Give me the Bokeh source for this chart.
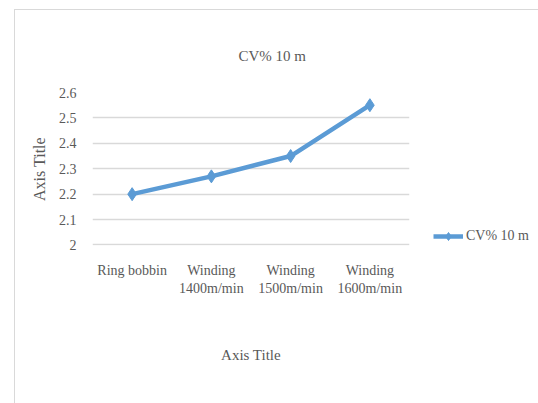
from bokeh.plotting import figure
from bokeh.models import (ColumnDataSource, Range1d, Legend, LegendItem, Title, FixedTicker)
from bokeh.embed import file_html
from bokeh.resources import INLINE

categories = ["Ring bobbin", "Winding\n1400m/min", "Winding\n1500m/min", "Winding\n1600m/min"]
cv_values = [2.20, 2.27, 2.35, 2.55]
y_ticks = [2.0, 2.1, 2.2, 2.3, 2.4, 2.5, 2.6]
y_tick_labels = ["2", "2.1", "2.2", "2.3", "2.4", "2.5", "2.6"]
series_name = "CV% 10 m"

FONT = "Liberation Serif"
TXT = "#595959"
BLUE = "#5b9bd5"
GRID = "#d9d9d9"

# category slots: each category centred in its own unit-wide band
x_pos = [i + 0.5 for i in range(len(categories))]
src = ColumnDataSource(dict(x=x_pos, val=cv_values))

p = figure(frame_width=317, frame_height=153, output_backend="svg", toolbar_location=None,
           x_range=Range1d(0, len(categories)),
           y_range=Range1d(1.998, 2.6),
           min_border_left=77, min_border_right=129, min_border_top=82, min_border_bottom=158)
p.styles = {"margin-left": "14px", "margin-top": "9px",
            "border-left": "1px solid #d9d9d9", "border-top": "1px solid #d9d9d9"}
p.outline_line_color = None
p.background_fill_color = "white"
p.border_fill_color = "white"

t = Title(text=series_name, align="left", offset=146, standoff=58,
          text_font=FONT, text_font_size="15px", text_color=TXT, text_font_style="normal")
p.add_layout(t, "above")

line = p.line("x", "val", source=src, line_color=BLUE, line_width=4.5)
marks = p.scatter("x", "val", source=src, marker="diamond", size=13,
                  fill_color=BLUE, line_color=BLUE, line_width=1)

p.yaxis.ticker = y_ticks
p.yaxis.major_label_overrides = dict(zip(y_ticks, y_tick_labels))
p.xaxis.ticker = FixedTicker(ticks=x_pos)
p.xaxis.major_label_overrides = dict(zip(x_pos, categories))

for ax in (p.xaxis[0], p.yaxis[0]):
    ax.axis_line_color = None
    ax.major_tick_line_color = None
    ax.minor_tick_line_color = None
    ax.major_label_text_font = FONT
    ax.major_label_text_font_size = "14px"
    ax.major_label_text_color = TXT
    ax.axis_label = "Axis Title"
    ax.axis_label_text_font = FONT
    ax.axis_label_text_color = TXT
    ax.axis_label_text_font_style = "normal"

p.yaxis.major_label_standoff = 10
p.yaxis.axis_label_text_font_size = "16px"
p.yaxis.axis_label_standoff = 8
p.xaxis.major_label_standoff = 11
p.xaxis.axis_label_text_font_size = "15px"
p.xaxis.axis_label_standoff = 48

p.xgrid.grid_line_color = None
p.ygrid.grid_line_color = GRID
p.ygrid.grid_line_width = 1.5

legend = Legend(items=[LegendItem(label=series_name, renderers=[line, marks])],
                location=(24, -1), padding=0, margin=0, spacing=0,
                glyph_width=30, glyph_height=20, label_standoff=3,
                border_line_color=None, background_fill_alpha=0,
                label_text_font=FONT, label_text_font_size="14px", label_text_color=TXT)
p.add_layout(legend, "right")

open("out.html", "w").write(file_html(p, INLINE))
